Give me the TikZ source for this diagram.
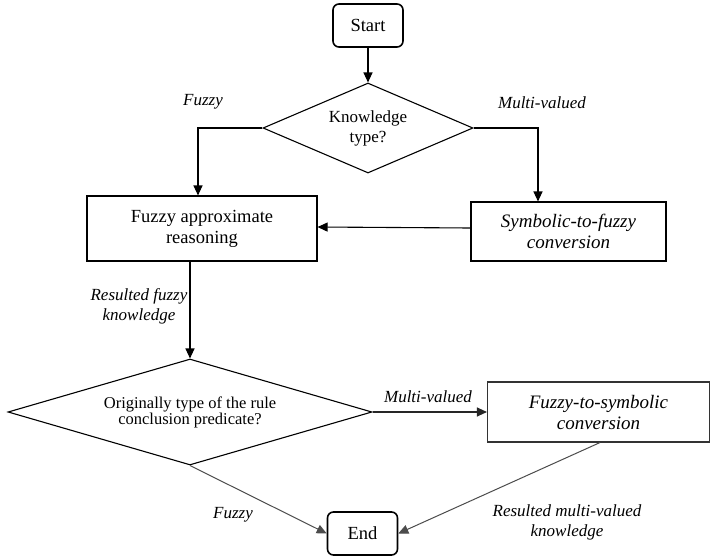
\documentclass[tikz,border=0pt]{standalone}
\usepackage{fontspec}
\setmainfont{Liberation Serif}
\usetikzlibrary{shapes.geometric,arrows.meta}
\tikzset{
  base/.style={draw=black, line width=1.1pt, inner sep=0pt, align=center},
  term/.style={base, rounded corners=6pt, line width=1.6pt, minimum width=70pt, minimum height=43pt, font=\fontsize{18.5}{21}\selectfont},
  proc/.style={base, rectangle, font=\fontsize{18.5}{21}\selectfont},
  itproc/.style={proc, font=\fontsize{19}{21}\selectfont\itshape},
  dec/.style={base, diamond},
  lab/.style={inner sep=0pt, align=center, font=\fontsize{17}{20}\selectfont\itshape},
  arr/.style={line width=1.1pt, -{Triangle[length=10pt,width=9pt]}},
  garr/.style={arr, draw=black!70, line width=1pt},
}
\begin{document}
\begin{tikzpicture}[x=1pt,y=-1pt]
\useasboundingbox[fill=white] (0,0) rectangle (710,557);
\node[term] (start) at (368,25.5) {Start};
\node[dec, aspect=2.33, minimum width=210pt, minimum height=90pt, font=\fontsize{17}{20}\selectfont] (k) at (368,128) {Knowledge\\type?};
\node[proc, minimum width=230pt, minimum height=65pt] (far) at (202,228.5) {Fuzzy approximate\\reasoning};
\node[itproc, minimum width=195pt, minimum height=59pt] (s2f) at (568.5,231.5) {Symbolic-to-fuzzy\\conversion};
\node[dec, aspect=3.43, minimum width=364pt, minimum height=106pt, font=\fontsize{16.5}{15}\selectfont] (o) at (190,412) {Originally type of the rule\\conclusion predicate?};
\node[itproc, draw=black!80, minimum width=222pt, minimum height=60pt] (f2s) at (598.5,412) {Fuzzy-to-symbolic\\conversion};
\node[term] (end) at (362.5,533.5) {End};

\draw[arr] (start) -- (k);
\draw[arr] (k.west) -| ([xshift=-4pt]far.north);
\draw[arr] (k.east) -| ([xshift=-30.5pt]s2f.north);
\draw[arr] ([yshift=3.5pt]s2f.west) -- ([yshift=1.5pt]far.east);
\draw[arr] (far.south -| o.north) -- (o.north);
\draw[arr, draw=black!85] (o.east) -- (f2s.west);
\draw[garr] (o.south) -- (end.west);
\draw[garr] ([xshift=1.5pt]f2s.south) -- (end.east);

\node[lab] (l1) at (203,102) {Fuzzy};
\node[lab] (l2) at (542,103) {Multi-valued};
\node[lab] (l3) at (139,306) {Resulted fuzzy\\knowledge};
\node[lab] (l4) at (428,397) {Multi-valued};
\node[lab] (l5) at (233,515) {Fuzzy};
\node[lab] (l6) at (567,522) {Resulted multi-valued\\knowledge};
\end{tikzpicture}
\end{document}
